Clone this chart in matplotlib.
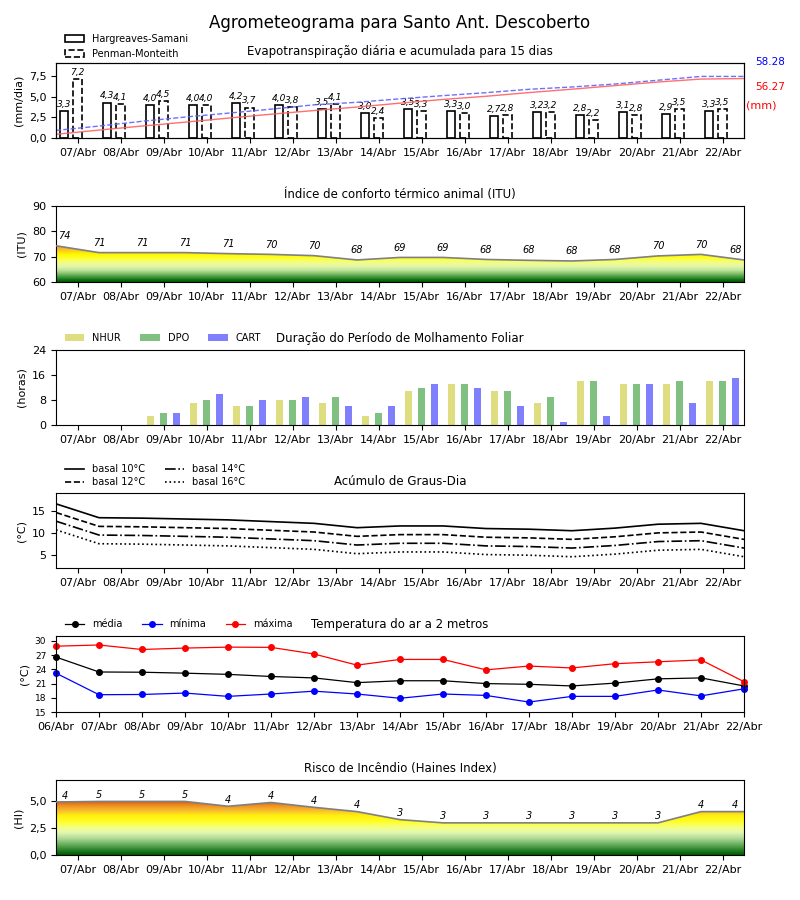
import numpy as np
import matplotlib
matplotlib.use("Agg")
import matplotlib.pyplot as plt
from matplotlib.colors import LinearSegmentedColormap
from matplotlib.patches import Polygon, Patch
from matplotlib.ticker import FuncFormatter

# ---------------- data ----------------
dias = ['06/Abr', '07/Abr', '08/Abr', '09/Abr', '10/Abr', '11/Abr', '12/Abr', '13/Abr',
        '14/Abr', '15/Abr', '16/Abr', '17/Abr', '18/Abr', '19/Abr', '20/Abr', '21/Abr', '22/Abr']
dias_bar = dias[1:]

et_hs = [3.3, 4.3, 4.0, 4.0, 4.2, 4.0, 3.5, 3.0, 3.5, 3.3, 2.7, 3.2, 2.8, 3.1, 2.9, 3.3]
et_pm = [7.2, 4.1, 4.5, 4.0, 3.7, 3.8, 4.1, 2.4, 3.3, 3.0, 2.8, 3.2, 2.2, 2.8, 3.5, 3.5]
acum_hs = [3.5, 7.5, 11.3, 15.0, 18.8, 22.5, 26.0, 29.3, 33.0, 36.5, 39.5, 43.0, 46.2, 49.6, 53.0, 55.8, 56.27]
acum_pm = [7.2, 11.3, 15.8, 19.8, 23.5, 27.3, 31.4, 33.8, 37.1, 40.1, 42.9, 46.1, 48.3, 51.1, 54.7, 58.28, 58.28]
acum_hs_total = 56.27
acum_pm_total = 58.28

itu = [74.3, 71.6, 71.6, 71.6, 71.2, 70.9, 70.4, 68.7, 69.7, 69.7, 68.9, 68.55, 68.3, 68.9, 70.3, 70.9, 68.7]

nhur = [0, 0, 3, 7, 6, 8, 7, 3, 11, 13, 11, 7, 14, 13, 13, 14]
dpo = [0, 0, 4, 8, 6, 8, 9, 4, 12, 13, 11, 9, 14, 13, 14, 14]
cart = [0, 0, 4, 10, 8, 9, 6, 6, 13, 12, 6, 1, 3, 13, 7, 15]

gd10 = [16.7, 13.5, 13.4, 13.2, 13.0, 12.6, 12.2, 11.2, 11.6, 11.6, 11.0, 10.85, 10.5, 11.1, 12.0, 12.2, 10.5]
gd12 = [14.7, 11.5, 11.4, 11.2, 11.0, 10.6, 10.2, 9.2, 9.6, 9.6, 9.0, 8.85, 8.5, 9.1, 10.0, 10.2, 8.5]
gd14 = [12.7, 9.5, 9.4, 9.2, 9.0, 8.6, 8.2, 7.2, 7.6, 7.6, 7.0, 6.85, 6.5, 7.1, 8.0, 8.2, 6.5]
gd16 = [10.7, 7.5, 7.4, 7.2, 7.0, 6.6, 6.2, 5.2, 5.6, 5.6, 5.0, 4.85, 4.5, 5.1, 6.0, 6.2, 4.5]

t_med = [26.6, 23.45, 23.4, 23.2, 22.95, 22.5, 22.2, 21.2, 21.6, 21.6, 21.0, 20.85, 20.5, 21.1, 22.0, 22.2, 20.5]
t_min = [23.2, 18.65, 18.7, 19.0, 18.3, 18.8, 19.4, 18.8, 17.9, 18.8, 18.5, 17.1, 18.3, 18.3, 19.65, 18.4, 19.9]
t_max = [28.9, 29.15, 28.2, 28.5, 28.7, 28.65, 27.25, 24.9, 26.1, 26.1, 23.9, 24.7, 24.3, 25.2, 25.6, 26.0, 21.4]

haines = [4.95, 5.0, 5.0, 5.0, 4.55, 4.9, 4.45, 4.05, 3.3, 3.0, 3.0, 3.0, 3.0, 3.0, 3.0, 4.05, 4.05]

# ---------------- helpers ----------------
W, H = 800, 900
fig = plt.figure(figsize=(8, 9), dpi=100)
fig.suptitle('Agrometeograma para Santo Ant. Descoberto', fontsize=12, y=0.985)

def rect(top_px, bot_px, left_px=56, right_px=744):
    return [left_px / W, 1 - bot_px / H, (right_px - left_px) / W, (bot_px - top_px) / H]

comma1 = FuncFormatter(lambda v, p: f'{v:.1f}'.replace('.', ','))
n = len(dias)
xd = np.arange(n)
xb = np.arange(len(dias_bar)) + 0.5
LX = 0.0075

def setup_x(ax, mid=True):
    ax.set_xlim(0, n - 1)
    if mid:
        ax.set_xticks(xb)
        ax.set_xticklabels(dias_bar, fontsize=8)
    else:
        ax.set_xticks(xd)
        ax.set_xticklabels(dias, fontsize=8)
    ax.tick_params(axis='y', labelsize=8)

def gradient_fill(ax, x, y, cmap, vmin, vmax):
    grad = np.linspace(vmin, vmax, 400).reshape(-1, 1)
    im = ax.imshow(grad, aspect='auto', cmap=cmap, origin='lower',
                   extent=[x[0], x[-1], vmin, vmax], vmin=vmin, vmax=vmax, zorder=1)
    verts = [(x[0], vmin)] + list(zip(x, y)) + [(x[-1], vmin)]
    poly = Polygon(verts, closed=True, facecolor='none', edgecolor='none')
    ax.add_patch(poly)
    im.set_clip_path(poly)
    ax.plot(x, y, color='#808080', lw=1.2, zorder=3)

# ---------------- Panel 1: ET ----------------
ax1 = fig.add_axes(rect(63, 138))
ax1.bar(xb - 0.31, et_hs, width=0.2, facecolor='white', edgecolor='black', lw=1.2, zorder=2)
ax1.bar(xb, et_pm, width=0.2, facecolor='white', edgecolor='black', lw=1.2, ls='--', zorder=2)
for xi, v in zip(xb - 0.31, et_hs):
    ax1.annotate(f'{v:.1f}'.replace('.', ','), (xi, v), xytext=(0, 1.5), textcoords='offset points',
                 ha='center', va='bottom', fontsize=6.5, style='italic')
for xi, v in zip(xb, et_pm):
    ax1.annotate(f'{v:.1f}'.replace('.', ','), (xi, v), xytext=(0, 1.5), textcoords='offset points',
                 ha='center', va='bottom', fontsize=6.5, style='italic')
setup_x(ax1)
ax1.set_ylim(0, 9.1)
ax1.set_yticks([0, 2.5, 5.0, 7.5])
ax1.yaxis.set_major_formatter(comma1)
ax1.set_ylabel('(mm/dia)', fontsize=8)
ax1.set_title('Evapotranspiração diária e acumulada para 15 dias', fontsize=8.5)
ax1t = ax1.twinx()
ax1t.plot(xd, acum_hs, color='#ff6060', lw=1.0, alpha=0.9)
ax1t.plot(xd, acum_pm, color='#6060ff', lw=1.0, ls='--', alpha=0.9)
ax1t.set_ylim(0, 71)
ax1t.set_yticks([])
ax1t.set_xlim(0, n - 1)
ax1.text(1.016, 1.01, f'{acum_pm_total:.2f}', transform=ax1.transAxes, color='blue', fontsize=7.5, va='center')
ax1.text(1.016, 0.68, f'{acum_hs_total:.2f}', transform=ax1.transAxes, color='red', fontsize=7.5, va='center')
ax1.text(1.003, 0.44, '(mm)', transform=ax1.transAxes, color='red', fontsize=8, va='center')
leg_h = [Patch(facecolor='white', edgecolor='black', lw=1.2, label='Hargreaves-Samani'),
         Patch(facecolor='white', edgecolor='black', lw=1.2, ls='--', label='Penman-Monteith')]
ax1.legend(handles=leg_h, loc='lower left', bbox_to_anchor=(LX, 1.005), frameon=False, fontsize=7,
           borderaxespad=0, labelspacing=0.5)

# ---------------- Panel 2: ITU ----------------
ax2 = fig.add_axes(rect(206, 282))
cmap_itu = LinearSegmentedColormap.from_list('itu', [
    (0.00, '#005c00'), (0.04, '#2a862a'), (0.08, '#60aa50'), (0.12, '#9ccf80'),
    (0.16, '#c8eaa0'), (0.21, '#e8f8a8'), (0.27, '#f6ff70'), (0.33, '#ffff10'),
    (0.38, '#ffee00'), (0.43, '#f8b830'), (0.50, '#f09020'), (1.0, '#c04000')], N=60)
gradient_fill(ax2, xd, itu, cmap_itu, 60, 90)
for i, v in enumerate(itu):
    xi = min(max(i, 0.2), n - 1.2)
    ax2.text(xi, v + 3.9, f'{int(v)}', ha='center', va='center', fontsize=7, style='italic')
setup_x(ax2)
ax2.set_ylim(60, 90)
ax2.set_yticks([60, 70, 80, 90])
ax2.set_ylabel('(ITU)', fontsize=8)
ax2.set_title('Índice de conforto térmico animal (ITU)', fontsize=8.5)

# ---------------- Panel 3: Molhamento ----------------
ax3 = fig.add_axes(rect(350, 425))
ax3.bar(xb - 0.3, nhur, width=0.15, color='#dede80', label='NHUR')
ax3.bar(xb, dpo, width=0.15, color='#80c080', label='DPO')
ax3.bar(xb + 0.3, cart, width=0.15, color='#8080ff', label='CART')
setup_x(ax3)
ax3.set_ylim(0, 24)
ax3.set_yticks([0, 8, 16, 24])
ax3.set_ylabel('(horas)', fontsize=8)
ax3.set_title('Duração do Período de Molhamento Foliar', fontsize=8.5)
ax3.legend(loc='lower left', bbox_to_anchor=(LX, 1.04), frameon=False, fontsize=7, ncol=3,
           borderaxespad=0)

# ---------------- Panel 4: Graus-dia ----------------
ax4 = fig.add_axes(rect(493, 568))
ax4.plot(xd, gd10, color='black', lw=1.2, ls='-', label='basal 10°C')
ax4.plot(xd, gd12, color='black', lw=1.2, ls='--', label='basal 12°C')
ax4.plot(xd, gd14, color='black', lw=1.2, ls='-.', label='basal 14°C')
ax4.plot(xd, gd16, color='black', lw=1.2, ls=':', label='basal 16°C')
setup_x(ax4)
ax4.set_ylim(1.9, 19.2)
ax4.set_yticks([5, 10, 15])
ax4.set_ylabel('(°C)', fontsize=8)
ax4.set_title('Acúmulo de Graus-Dia', fontsize=8.5)
ax4.legend(loc='lower left', bbox_to_anchor=(LX, 1.025), frameon=False, fontsize=7, ncol=2,
           borderaxespad=0, labelspacing=0.3)

# ---------------- Panel 5: Temperatura ----------------
ax5 = fig.add_axes(rect(636, 712))
ax5.plot(xd, t_med, color='black', lw=0.9, marker='o', ms=4, label='média', clip_on=False)
ax5.plot(xd, t_min, color='blue', lw=0.9, marker='o', ms=4, label='mínima', clip_on=False)
ax5.plot(xd, t_max, color='red', lw=0.9, marker='o', ms=4, label='máxima', clip_on=False)
setup_x(ax5, mid=False)
ax5.set_ylim(15, 31.05)
ax5.set_yticks([15, 18, 21, 24, 27, 30])
ax5.tick_params(axis='y', labelsize=6.5)
ax5.set_ylabel('(°C)', fontsize=8)
ax5.set_title('Temperatura do ar a 2 metros', fontsize=8.5)
ax5.legend(loc='lower left', bbox_to_anchor=(LX, 1.04), frameon=False, fontsize=7, ncol=3,
           borderaxespad=0)

# ---------------- Panel 6: Haines ----------------
ax6 = fig.add_axes(rect(780, 855))
cmap_hi = LinearSegmentedColormap.from_list('hi', [
    (0.00, '#005c00'), (0.07, '#2e882e'), (0.14, '#6cb060'), (0.22, '#b0da98'),
    (0.30, '#e4f8b0'), (0.37, '#f6ff80'), (0.45, '#ffff20'), (0.53, '#ffee10'),
    (0.60, '#f8b830'), (0.66, '#f09020'), (0.72, '#d86010'), (1.0, '#b03000')], N=80)
gradient_fill(ax6, xd, haines, cmap_hi, 0, 7)
for i, v in enumerate(haines):
    xi = min(max(i, 0.2), n - 1.2)
    ax6.text(xi, v + 0.6, f'{int(v)}', ha='center', va='center', fontsize=7, style='italic')
setup_x(ax6)
ax6.set_ylim(0, 7)
ax6.set_yticks([0, 2.5, 5.0])
ax6.yaxis.set_major_formatter(comma1)
ax6.set_ylabel('(HI)', fontsize=8)
ax6.set_title('Risco de Incêndio (Haines Index)', fontsize=8.5)

fig.savefig('out.png', dpi=100)
